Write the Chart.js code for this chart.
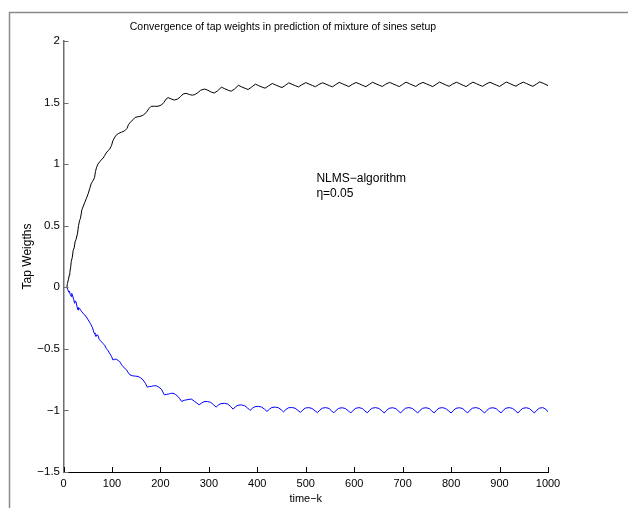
<!DOCTYPE html>
<html>
<head>
<meta charset="utf-8">
<title>Tap weight convergence</title>
<script src="https://cdn.jsdelivr.net/npm/chart.js@4/dist/chart.umd.min.js"></script>
<style>
  html, body { margin: 0; padding: 0; background: #fff; }
  #wrap { width: 628px; height: 508px; }
</style>
</head>
<body>
<div id="wrap"><canvas id="c" width="628" height="508"></canvas></div>
<script>
// Tap weight w1 (black) against time index k
const kW1 = [7,8,10,12,13,15,16,18,20,22,24,26,29,31,33,35,38,41,44,47,51,54,57,60,64,66,68,71,75,79,82,85,88,92,95,99,102,106,110,114,120,126,131,134,138,143,148,154,160,165,171,176,181,188,195,202,207,212,216,222,229,236,242,247,253,260,266,271,277,283,
  291,298,305,311,318, 326,333,340,346,353, 361,368,375,381,388, 396,403,410,416,423, 431,438,445,451,458,
  465,472,479,485,492, 500,507,514,520,527, 535,542,549,555,562, 569,576,583,589,596, 604,611,618,624,631,
  638,645,652,658,665, 673,680,687,693,700, 707,714,721,727,734, 742,749,756,762,769, 776,783,790,796,803,
  811,818,825,831,838, 845,852,859,865,872, 880,887,894,900,907, 914,921,928,934,941, 949,956,963,969,976,
  983,990,1000];
const w1 = [0,0.03,0.06,0.10,0.12,0.17,0.21,0.24,0.30,0.32,0.37,0.39,0.44,0.50,0.54,0.56,0.63,0.66,0.69,0.72,0.76,0.80,0.84,0.86,0.89,0.94,0.97,1.00,1.02,1.04,1.05,1.07,1.09,1.11,1.12,1.15,1.19,1.22,1.24,1.25,1.26,1.27,1.29,1.32,1.34,1.36,1.38,1.385,1.39,1.40,1.42,1.45,1.47,1.47,1.47,1.48,1.50,1.53,1.54,1.53,1.52,1.53,1.55,1.57,1.575,1.565,1.56,1.565,1.58,1.60,
  1.61,1.60,1.585,1.578,1.595, 1.625,1.612,1.60,1.592,1.61, 1.64,1.627,1.615,1.606,1.625, 1.65,1.637,1.625,1.617,1.635, 1.655,1.643,1.631,1.622,1.64,
  1.66,1.648,1.636,1.627,1.645, 1.662,1.650,1.638,1.629,1.647, 1.661,1.649,1.637,1.628,1.646, 1.664,1.652,1.640,1.630,1.648, 1.663,1.651,1.639,1.629,1.647,
  1.665,1.652,1.640,1.631,1.649, 1.664,1.652,1.640,1.630,1.648, 1.666,1.653,1.641,1.631,1.650, 1.664,1.652,1.640,1.630,1.648, 1.666,1.654,1.641,1.632,1.650,
  1.665,1.653,1.640,1.630,1.649, 1.666,1.654,1.641,1.632,1.650, 1.665,1.653,1.641,1.631,1.649, 1.667,1.655,1.642,1.633,1.651, 1.666,1.654,1.641,1.632,1.650,
  1.668,1.657,1.638];

// Tap weight w2 (blue) against time index k
const kW2 = [7,9,11,12,14,16,17,19,21,23,24,26,28,30,31,33,36,38,41,44,47,51,54,57,60,63,65,67,69,71,74,78,81,85,88,92,95,99,102,105,109,113,116,120,123,127,130,134,137,143,149,154,159,164,169,173,177,181,186,192,197,202,205,208,212,216,221,226,231,236,240,244,249,254,259,264,270,275,
  280,285,290,297,304,310, 315,320,325,332,339,345, 350,355,360,367,374,380, 385,390,395,402,409,415, 420,425,430,437,444,450,
  454,459,464,471,478,484, 489,494,499,506,513,519, 524,529,534,541,548,553, 558,563,568,575,582,588, 593,598,603,610,617,622,
  627,632,637,644,651,657, 662,667,672,679,686,691, 696,701,706,713,720,726, 731,736,741,748,755,760, 765,770,775,782,789,795,
  800,805,810,817,824,829, 834,839,844,851,858,864, 869,874,879,886,893,898, 903,908,913,920,927,933, 938,943,948,955,962,967,
  972,977,982,989,995,1000];
const w2 = [0,-0.02,-0.04,-0.03,-0.06,-0.075,-0.05,-0.07,-0.10,-0.13,-0.11,-0.12,-0.16,-0.185,-0.165,-0.17,-0.19,-0.20,-0.215,-0.225,-0.24,-0.265,-0.285,-0.305,-0.33,-0.37,-0.38,-0.40,-0.385,-0.39,-0.425,-0.44,-0.455,-0.47,-0.495,-0.515,-0.535,-0.56,-0.59,-0.585,-0.584,-0.595,-0.603,-0.63,-0.645,-0.66,-0.67,-0.695,-0.711,-0.719,-0.722,-0.724,-0.735,-0.751,-0.78,-0.811,-0.806,-0.805,-0.80,-0.80,-0.812,-0.827,-0.85,-0.873,-0.87,-0.868,-0.862,-0.86,-0.87,-0.886,-0.905,-0.927,-0.918,-0.914,-0.91,-0.908,-0.925,-0.94,
  -0.954,-0.94,-0.929,-0.927,-0.935,-0.955, -0.973,-0.955,-0.945,-0.942,-0.948,-0.968, -0.99,-0.97,-0.958,-0.955,-0.962,-0.98, -1.0,-0.982,-0.97,-0.967,-0.973,-0.99, -1.008,-0.99,-0.976,-0.973,-0.979,-0.997,
  -1.012,-0.993,-0.979,-0.976,-0.982,-1.0, -1.016,-0.996,-0.981,-0.977,-0.984,-1.002, -1.018,-0.998,-0.982,-0.977,-0.984,-1.003, -1.019,-0.998,-0.983,-0.978,-0.985,-1.004, -1.02,-0.999,-0.983,-0.977,-0.985,-1.004,
  -1.019,-0.998,-0.982,-0.977,-0.984,-1.003, -1.021,-0.999,-0.983,-0.978,-0.985,-1.004, -1.02,-0.998,-0.982,-0.977,-0.984,-1.003, -1.021,-0.999,-0.983,-0.978,-0.985,-1.004, -1.02,-0.998,-0.982,-0.977,-0.985,-1.004,
  -1.021,-0.999,-0.983,-0.978,-0.985,-1.004, -1.02,-0.998,-0.982,-0.977,-0.984,-1.003, -1.021,-0.999,-0.983,-0.978,-0.985,-1.004, -1.02,-0.998,-0.982,-0.977,-0.984,-1.003, -1.021,-0.999,-0.983,-0.978,-0.985,-1.004,
  -1.02,-0.998,-0.982,-0.977,-0.988,-1.012];

// Axis ticks and text
const xTicks = [0,100,200,300,400,500,600,700,800,900,1000];
const yTicks = [-1.5,-1,-0.5,0,0.5,1,1.5,2];
const titleText = 'Convergence of tap weights in prediction of mixture of sines setup';
const xLabel = 'time\u2212k';
const yLabel = 'Tap Weigths';
const noteLines = ['NLMS\u2212algorithm', '\u03b7=0.05'];
const notePos = { k: 522, w: 0.885 };

const FONT = "'Liberation Sans', Arial, Helvetica, sans-serif";
const toPoints = (ks, ws) => ks.map((k, i) => ({ x: k, y: ws[i] }));
const fmt = v => (v < 0 ? '\u2212' + String(Math.abs(v)) : String(v));

// Grey figure frame, inward tick marks and the text note inside the axes
const decorations = {
  id: 'decorations',
  beforeDraw(chart) {
    const { ctx } = chart;
    ctx.save();
    ctx.strokeStyle = '#8a8a8a';
    ctx.lineWidth = 1.5;
    ctx.beginPath();
    ctx.moveTo(9.5, 508);
    ctx.lineTo(9.5, 12.5);
    ctx.lineTo(628, 12.5);
    ctx.stroke();
    ctx.restore();
  },
  afterDraw(chart) {
    const { ctx, chartArea: a, scales: { x, y } } = chart;
    ctx.save();
    ctx.lineWidth = 1;
    ctx.strokeStyle = '#000';
    ctx.beginPath();
    xTicks.forEach(v => {
      const px = Math.round(x.getPixelForValue(v)) + 0.5;
      ctx.moveTo(px, a.bottom);
      ctx.lineTo(px, a.bottom - 5);
    });
    ctx.stroke();
    ctx.strokeStyle = '#6e6e6e';
    ctx.beginPath();
    yTicks.forEach(v => {
      const py = Math.round(y.getPixelForValue(v)) + 0.5;
      ctx.moveTo(a.left, py);
      ctx.lineTo(a.left + 5, py);
    });
    ctx.stroke();
    ctx.fillStyle = '#000';
    ctx.font = '12px ' + FONT;
    ctx.textAlign = 'left';
    ctx.textBaseline = 'middle';
    const nx = x.getPixelForValue(notePos.k);
    const ny = y.getPixelForValue(notePos.w);
    noteLines.forEach((t, i) => ctx.fillText(t, nx, ny + i * 15));
    ctx.restore();
  }
};

new Chart(document.getElementById('c'), {
  type: 'line',
  data: {
    datasets: [
      { data: toPoints(kW1, w1), borderColor: '#000000', borderWidth: 1, pointRadius: 0, tension: 0, fill: false },
      { data: toPoints(kW2, w2), borderColor: '#0000ff', borderWidth: 1, pointRadius: 0, tension: 0, fill: false }
    ]
  },
  options: {
    responsive: false,
    animation: false,
    devicePixelRatio: 1,
    parsing: false,
    layout: { padding: { left: 18, right: 80, top: 0, bottom: 0 } },
    plugins: {
      legend: { display: false },
      tooltip: { enabled: false },
      title: {
        display: true,
        text: titleText,
        color: '#000',
        font: { family: FONT, size: 10.5, weight: 'normal' },
        padding: { top: 20.5, bottom: 7.9 }
      }
    },
    scales: {
      x: {
        type: 'linear',
        min: 0, max: 1000,
        afterBuildTicks: s => { s.ticks = xTicks.map(v => ({ value: v })); },
        afterFit: s => { s.height = 36; },
        grid: { display: false, drawTicks: false },
        border: { display: true, color: '#000', width: 1 },
        ticks: { color: '#000', padding: 5, maxRotation: 0, font: { family: FONT, size: 11 }, callback: v => fmt(v) },
        title: { display: true, text: xLabel, color: '#000', font: { family: FONT, size: 11 }, padding: { top: 0, bottom: 2.4 } }
      },
      y: {
        type: 'linear',
        min: -1.5, max: 2,
        afterBuildTicks: s => { s.ticks = yTicks.map(v => ({ value: v })); },
        afterFit: s => { s.width = 45.5; },
        grid: { display: false, drawTicks: false },
        border: { display: true, color: '#6e6e6e', width: 1.5 },
        ticks: { color: '#000', padding: 3.5, font: { family: FONT, size: 11.5 }, callback: v => fmt(v) },
        title: { display: true, text: yLabel, color: '#000', font: { family: FONT, size: 12 }, padding: { top: 2, bottom: 0 } }
      }
    }
  },
  plugins: [decorations]
});
</script>
</body>
</html>
